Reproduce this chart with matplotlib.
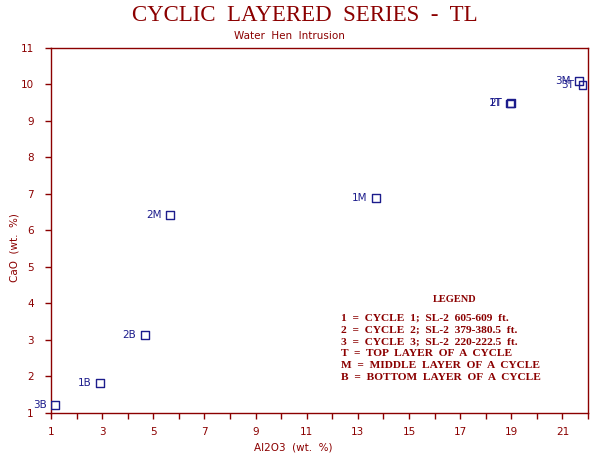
import matplotlib
matplotlib.use("Agg")
import matplotlib.pyplot as plt
import numpy as np

# sample data: Al2O3 vs CaO (wt. %)
labels = ["3B", "1B", "2B", "2M", "1M", "1T", "2T", "3M", "3T"]
al2o3 = [1.16, 2.91, 4.67, 5.65, 13.70, 18.95, 18.98, 21.66, 21.78]
cao = [1.22, 1.82, 3.13, 6.42, 6.89, 9.48, 9.49, 10.09, 9.99]

legend_lines = [
    "1  =  CYCLE  1;  SL-2  605-609  ft.",
    "2  =  CYCLE  2;  SL-2  379-380.5  ft.",
    "3  =  CYCLE  3;  SL-2  220-222.5  ft.",
    "T  =  TOP  LAYER  OF  A  CYCLE",
    "M  =  MIDDLE  LAYER  OF  A  CYCLE",
    "B  =  BOTTOM  LAYER  OF  A  CYCLE",
]

red = "#8b0000"
blue = "#1c1c8c"

fig = plt.figure(figsize=(5.9, 4.57), dpi=100)
ax = fig.add_axes([0.0864, 0.0963, 0.9102, 0.7987])

ax.scatter(al2o3, cao, marker="s", s=30, facecolors="none",
           edgecolors=blue, linewidths=1.0, zorder=3)
for lab, x, y in zip(labels, al2o3, cao):
    ax.annotate(lab, (x, y), xytext=(-6, 0), textcoords="offset points",
                ha="right", va="center", fontsize=7.5, color=blue,
                family="DejaVu Sans")

ax.set_xlim(1, 22)
ax.set_ylim(1, 11)
ax.set_xticks(np.arange(1, 23, 1))
ax.set_xticklabels([str(v) if v % 2 == 1 and v < 22 else "" for v in range(1, 23)])
ax.set_yticks(np.arange(1, 12, 1))
ax.tick_params(axis="both", direction="out", length=4.3, width=1,
               colors=red, labelsize=7.5, labelcolor=red)
ax.tick_params(axis="x", pad=6)
ax.tick_params(axis="y", pad=8)
for sp in ax.spines.values():
    sp.set_color(red)
    sp.set_linewidth(1)

ax.set_xlabel("Al2O3  (wt.  %)", fontsize=7.5, color=red)
ax.xaxis.set_label_coords(0.451, -0.08)
ax.set_ylabel("CaO  (wt.  %)", fontsize=7.5, color=red)
ax.yaxis.set_label_coords(-0.058, 0.452)

fig.text(0.516, 0.966, "CYCLIC  LAYERED  SERIES  -  TL", ha="center",
         va="center", fontsize=16.5, color=red, family="Liberation Serif")
fig.text(0.491, 0.921, "Water  Hen  Intrusion", ha="center", va="center",
         fontsize=7.5, color=red)

fig.text(455 / 590, 1 - 299 / 457, "LEGEND", ha="center", va="center",
         fontsize=7.5, color=red, family="Liberation Serif", weight="bold")
for i, line in enumerate(legend_lines):
    fig.text(341 / 590, 1 - (318 + 12 * i) / 457, line, ha="left",
             va="center", fontsize=8.2, color=red,
             family="Liberation Serif", weight="bold")

fig.savefig("out.png", dpi=100)
